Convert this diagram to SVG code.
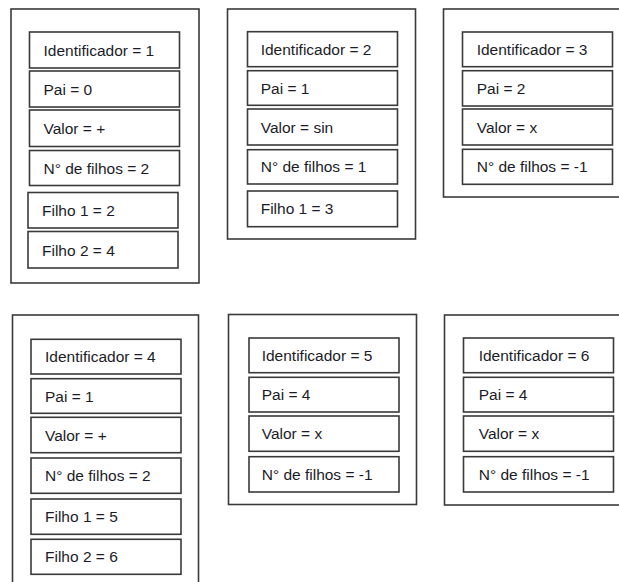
<svg xmlns="http://www.w3.org/2000/svg" width="619" height="582" viewBox="0 0 619 582">
<style>
.outer{fill:#fff;stroke:#3a3a3a;stroke-width:1.6}
.cell{fill:#fff;stroke:#3a3a3a;stroke-width:1.6}
text{font-family:"Liberation Sans",Arial,sans-serif;font-size:15.5px;fill:#1c1c28}
</style>
<rect width="619" height="582" fill="#fff"/>
<g id="node1">
<rect class="outer" x="11" y="9" width="188" height="274"/>
<rect class="cell" x="29.5" y="32" width="150" height="36"/><text x="43.5" y="55.5">Identificador = 1</text>
<rect class="cell" x="29.5" y="71" width="150" height="36"/><text x="43.5" y="94.5">Pai = 0</text>
<rect class="cell" x="29.5" y="110" width="150" height="36.5"/><text x="43.5" y="133.5">Valor = +</text>
<rect class="cell" x="29.5" y="150.5" width="150" height="35"/><text x="43.5" y="173.5">N° de filhos = 2</text>
<rect class="cell" x="28" y="192.5" width="150" height="35.5"/><text x="42" y="216">Filho 1 = 2</text>
<rect class="cell" x="28" y="231.5" width="150" height="36.5"/><text x="42" y="255.5">Filho 2 = 4</text>
</g>
<g id="node2">
<rect class="outer" x="227.5" y="9" width="188" height="230"/>
<rect class="cell" x="247.5" y="31.7" width="150" height="35"/><text x="260.7" y="54.7">Identificador = 2</text>
<rect class="cell" x="247.5" y="70.7" width="150" height="34.6"/><text x="260.7" y="93.5">Pai = 1</text>
<rect class="cell" x="247.5" y="109" width="150" height="36"/><text x="260.7" y="132.5">Valor = sin</text>
<rect class="cell" x="247.5" y="149.7" width="150" height="34.3"/><text x="260.7" y="172.3">N° de filhos = 1</text>
<rect class="cell" x="247.5" y="191" width="150" height="35.7"/><text x="260.7" y="214.3">Filho 1 = 3</text>
</g>
<g id="node3">
<rect class="outer" x="443.5" y="9" width="180" height="188"/>
<rect class="cell" x="462.5" y="32" width="150" height="34.7"/><text x="476.7" y="54.8">Identificador = 3</text>
<rect class="cell" x="462.5" y="70.7" width="150" height="35.3"/><text x="476.7" y="93.8">Pai = 2</text>
<rect class="cell" x="462.5" y="109" width="150" height="36"/><text x="476.7" y="132.5">Valor = x</text>
<rect class="cell" x="462.5" y="149.3" width="150" height="35"/><text x="476.7" y="172.3">N° de filhos = -1</text>
</g>
<g id="node4">
<rect class="outer" x="12.5" y="315" width="186" height="280"/>
<rect class="cell" x="31" y="339.3" width="150" height="34.7"/><text x="45" y="362.2">Identificador = 4</text>
<rect class="cell" x="31" y="378.7" width="150" height="34.6"/><text x="45" y="401.5">Pai = 1</text>
<rect class="cell" x="31" y="417.3" width="150" height="35.4"/><text x="45" y="440.5">Valor = +</text>
<rect class="cell" x="31" y="458" width="150" height="35.3"/><text x="45" y="481.2">N° de filhos = 2</text>
<rect class="cell" x="31" y="499" width="150" height="35.3"/><text x="45" y="522.2">Filho 1 = 5</text>
<rect class="cell" x="31" y="539.3" width="150" height="35"/><text x="45" y="562.3">Filho 2 = 6</text>
</g>
<g id="node5">
<rect class="outer" x="228.5" y="314.5" width="188" height="190"/>
<rect class="cell" x="249" y="338" width="150" height="34.7"/><text x="261.7" y="360.9">Identificador = 5</text>
<rect class="cell" x="249" y="377.3" width="150" height="34.7"/><text x="261.7" y="400.2">Pai = 4</text>
<rect class="cell" x="249" y="416" width="150" height="35.3"/><text x="261.7" y="439.2">Valor = x</text>
<rect class="cell" x="249" y="456.7" width="150" height="35.3"/><text x="261.7" y="479.9">N° de filhos = -1</text>
</g>
<g id="node6">
<rect class="outer" x="444.5" y="315" width="180" height="190"/>
<rect class="cell" x="463.5" y="338" width="150" height="34.7"/><text x="478.7" y="360.9">Identificador = 6</text>
<rect class="cell" x="463.5" y="377.3" width="150" height="34.7"/><text x="478.7" y="400.2">Pai = 4</text>
<rect class="cell" x="463.5" y="416" width="150" height="35.3"/><text x="478.7" y="439.2">Valor = x</text>
<rect class="cell" x="463.5" y="456.7" width="150" height="35.3"/><text x="478.7" y="479.9">N° de filhos = -1</text>
</g>
<g id="connectors"></g>
</svg>
